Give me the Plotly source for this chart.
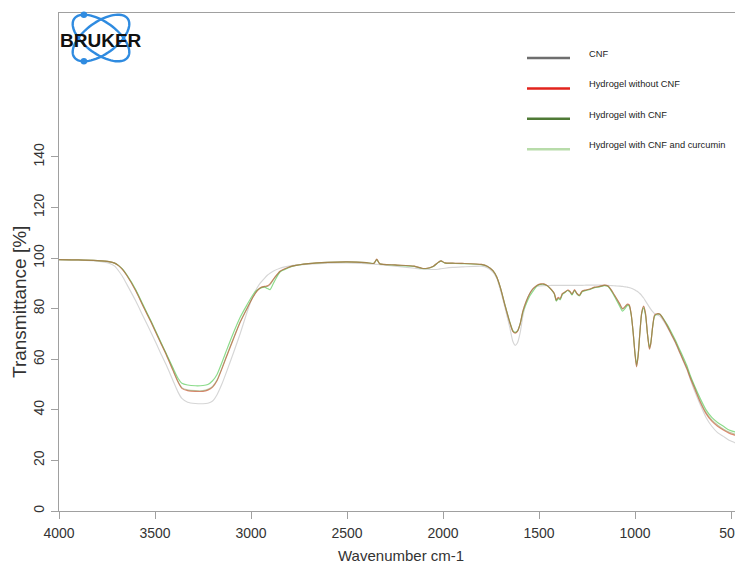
import math
import plotly.graph_objects as go

# ---------------- data ----------------
wavenumber = [4000, 3900, 3800, 3740, 3710, 3690, 3670, 3646, 3600, 3562, 3520, 3474, 3440, 3406, 3380,
              3360, 3330, 3290, 3250, 3225, 3200, 3177, 3150, 3125, 3094, 3057, 3021, 2990, 2970, 2953,
              2930, 2915, 2901, 2880, 2849, 2810, 2781, 2700, 2600, 2500, 2400, 2360, 2345, 2330, 2250,
              2150, 2110, 2090, 2050, 2025, 2010, 1990, 1950, 1900, 1800, 1770, 1740, 1720, 1700, 1676,
              1652, 1636, 1624, 1612, 1598, 1584, 1566, 1548, 1530, 1510, 1490, 1475, 1455, 1435, 1420,
              1410, 1400, 1390, 1378, 1365, 1350, 1338, 1328, 1315, 1302, 1290, 1275, 1255, 1235, 1210,
              1185, 1160, 1140, 1120, 1100, 1080, 1065, 1050, 1040, 1030, 1020, 1010, 1000, 992, 984,
              975, 965, 955, 945, 935, 925, 918, 908, 898, 885, 870, 850, 830, 810, 790, 770, 750,
              730, 714, 690, 660, 630, 600, 570, 540, 510, 480, 440]

cnf = [99.4, 99.2, 98.8, 98.0, 96.8, 95.0, 92.8, 89.5, 83.0, 77.0, 70.5, 63.0, 57.5, 51.5, 47.0,
       44.5, 43.0, 42.5, 42.4, 42.6, 43.5, 46.0, 50.5, 55.5, 62.0, 70.0, 78.5, 85.0, 88.0, 90.0,
       92.0, 93.2, 94.0, 95.0, 96.0, 96.7, 97.1, 97.6, 98.0, 98.1, 97.8, 97.6, 97.5, 97.4, 96.8,
       96.0, 95.7, 95.6, 95.5, 95.6, 95.8, 96.0, 96.3, 96.5, 96.8, 96.2, 94.5, 92.0, 87.0, 80.0,
       72.5, 67.0, 65.5, 66.5, 70.5, 77.0, 82.5, 86.0, 88.0, 88.8, 89.0, 89.1, 89.1, 89.2, 89.2,
       89.2, 89.2, 89.2, 89.2, 89.2, 89.2, 89.2, 89.2, 89.2, 89.2, 89.2, 89.2, 89.3, 89.3, 89.3,
       89.3, 89.3, 89.2, 89.1, 89.0, 88.9, 88.8, 88.6, 88.5, 88.3, 88.1, 87.8, 87.4, 87.0, 86.6,
       86.0, 85.2, 84.2, 83.0, 81.8, 80.6, 79.8, 78.8, 78.0, 77.5, 77.0, 75.0, 72.5, 69.5, 66.5,
       63.0, 59.5, 56.0, 52.5, 47.5, 42.0, 37.0, 33.5, 31.0, 29.5, 28.0, 27.0, 25.5]

hydrogel_without_cnf = [99.4, 99.3, 99.0, 98.6, 98.0, 97.0, 95.5, 93.0, 87.0, 81.0, 74.5, 67.0, 61.5, 55.5, 51.0,
                        48.5, 47.6, 47.3, 47.3, 47.8, 49.0, 51.5, 56.5, 61.5, 67.5, 74.5, 80.0, 84.5, 86.8, 88.2,
                        88.8, 89.0, 89.8, 92.0, 94.8, 96.2, 96.9, 97.8, 98.3, 98.5, 98.2, 97.9, 99.6, 97.8, 97.3,
                        96.8, 96.0, 95.9, 96.8, 98.3, 98.9, 98.1, 98.0, 97.9, 97.5, 96.8, 95.0, 92.5, 88.0, 81.0,
                        74.5, 71.0, 70.3, 71.0, 74.0, 79.0, 83.0, 86.0, 88.0, 89.3, 89.8, 89.8, 89.0, 87.5, 86.0,
                        83.5, 84.5, 84.0, 86.0, 86.6, 87.4, 86.8, 85.8, 87.5, 86.0, 85.3, 87.0, 87.4, 87.8, 88.5,
                        88.8, 89.3, 89.0, 87.0, 84.5, 82.0, 80.0, 81.0, 81.8, 81.5, 78.0, 71.0, 62.0, 57.0, 61.0,
                        70.0, 78.5, 81.0, 78.0, 70.0, 64.0, 66.0, 73.0, 77.5, 78.0, 77.8, 75.5, 72.8, 69.8, 66.8,
                        63.3, 59.8, 56.3, 53.0, 48.5, 43.0, 38.5, 35.5, 33.5, 32.0, 30.8, 30.0, 29.0]

hydrogel_with_cnf = [99.4, 99.3, 99.0, 98.6, 98.0, 97.0, 95.6, 93.1, 87.2, 81.2, 74.7, 67.2, 61.8, 55.8, 51.3,
                     48.8, 47.9, 47.6, 47.6, 48.1, 49.3, 51.8, 56.8, 61.8, 67.8, 74.7, 80.2, 84.6, 86.9, 88.2,
                     88.7, 88.8, 89.5, 91.8, 94.7, 96.2, 96.9, 97.8, 98.3, 98.5, 98.2, 97.9, 99.5, 97.8, 97.3,
                     96.8, 96.0, 95.9, 96.8, 98.3, 98.9, 98.1, 98.0, 97.9, 97.5, 96.8, 95.0, 92.5, 88.0, 81.0,
                     74.5, 71.0, 70.5, 71.2, 74.2, 79.0, 83.0, 86.0, 87.8, 89.2, 89.7, 89.7, 89.0, 87.4, 85.8,
                     83.2, 84.2, 83.8, 85.8, 86.5, 87.3, 86.6, 85.6, 87.4, 85.9, 85.2, 86.9, 87.3, 87.7, 88.4,
                     88.7, 89.2, 88.9, 86.9, 84.4, 81.8, 79.8, 80.8, 81.6, 81.3, 77.8, 70.8, 62.0, 57.2, 61.0,
                     70.0, 78.4, 80.8, 77.8, 70.0, 64.2, 66.0, 72.8, 77.3, 77.9, 77.8, 75.6, 73.0, 70.0, 67.0,
                     63.6, 60.1, 56.7, 53.4, 49.0, 43.5, 39.0, 36.0, 34.0, 32.4, 31.2, 30.4, 29.5]

hydrogel_with_cnf_curcumin = [99.4, 99.3, 99.0, 98.6, 98.0, 97.1, 95.7, 93.3, 87.5, 81.5, 75.0, 67.5, 62.0, 56.5, 52.5,
                              50.5, 49.8, 49.5, 49.6, 50.0, 51.5, 54.0, 59.0, 64.0, 70.0, 76.5, 81.5, 85.5, 87.3, 88.0,
                              88.5, 88.0, 87.5, 90.5, 94.5, 96.0, 96.8, 97.8, 98.3, 98.5, 98.2, 97.9, 99.4, 97.8, 97.2,
                              96.7, 95.9, 95.8, 96.7, 98.2, 98.8, 98.0, 97.9, 97.8, 97.4, 96.8, 95.0, 92.5, 88.0, 81.2,
                              74.8, 71.3, 70.6, 71.2, 74.0, 78.5, 82.0, 85.0, 87.0, 89.0, 89.6, 89.6, 88.9, 87.4, 85.8,
                              83.0, 84.0, 83.5, 85.6, 86.4, 87.2, 86.5, 85.4, 87.2, 85.8, 85.0, 86.7, 87.2, 87.6, 88.3,
                              88.6, 89.1, 88.8, 86.6, 83.8, 81.0, 79.0, 80.2, 81.2, 81.0, 77.6, 71.0, 62.5, 58.0, 61.5,
                              70.2, 78.0, 80.2, 77.2, 70.0, 64.8, 66.5, 72.8, 77.0, 77.8, 77.8, 75.8, 73.4, 70.6, 67.6,
                              64.3, 61.0, 57.5, 54.0, 49.5, 44.5, 40.0, 37.0, 35.0, 33.5, 32.0, 31.3, 30.8]

series_names = ["CNF", "Hydrogel without CNF", "Hydrogel with CNF", "Hydrogel with CNF and curcumin"]
x_tick_values = [4000, 3500, 3000, 2500, 2000, 1500, 1000, 500]
y_tick_values = [0, 20, 40, 60, 80, 100, 120, 140]

# ---------------- styles ----------------
plot_colors = {
    "CNF": "#d6d6d6",
    "Hydrogel without CNF": "rgba(214,96,66,0.75)",
    "Hydrogel with CNF": "rgba(120,140,70,0.45)",
    "Hydrogel with CNF and curcumin": "#8bdc8b",
}
legend_colors = {
    "CNF": "#6e6e6e",
    "Hydrogel without CNF": "#e2231d",
    "Hydrogel with CNF": "#4f7a36",
    "Hydrogel with CNF and curcumin": "#b8dcaa",
}
series_values = {
    "CNF": cnf,
    "Hydrogel without CNF": hydrogel_without_cnf,
    "Hydrogel with CNF": hydrogel_with_cnf,
    "Hydrogel with CNF and curcumin": hydrogel_with_cnf_curcumin,
}
draw_order = ["CNF", "Hydrogel with CNF and curcumin", "Hydrogel without CNF", "Hydrogel with CNF"]

# page has an 8px body margin: the figure starts at (8, 8) in the window
OFF = 8
W, H = 743 - OFF, 566 - OFF
PLOT_L, PLOT_T, PLOT_R, PLOT_B = 59, 13, 743, 511     # plot area, window pixels
ML, MT = PLOT_L - OFF, PLOT_T - OFF
MR = (W + OFF) - PLOT_R
MB = (H + OFF) - PLOT_B
PW, PH = PLOT_R - PLOT_L, PLOT_B - PLOT_T


def pxx(x):
    return (x - PLOT_L) / PW


def pxy(y):
    return (PLOT_B - y) / PH


fig = go.Figure()
for name in draw_order:
    fig.add_trace(go.Scatter(
        x=wavenumber, y=series_values[name], mode="lines", name=name, showlegend=False,
        line=dict(color=plot_colors[name], width=1.15, shape="spline", smoothing=0.6),
        hoverinfo="x+y+name",
    ))

shapes = []
annotations = []

# ---------------- legend (drawn manually, as in the reference) ----------------
for i, name in enumerate(series_names):
    ly = 58 + 30.4 * i
    shapes.append(dict(type="line", xref="paper", yref="paper",
                       x0=pxx(527), x1=pxx(570), y0=pxy(ly), y1=pxy(ly),
                       line=dict(color=legend_colors[name], width=2.5)))
    annotations.append(dict(xref="paper", yref="paper", x=pxx(587), y=pxy(ly - 4),
                            xanchor="left", yanchor="middle", showarrow=False, text=name,
                            font=dict(family="Liberation Sans, Arial", size=9.3,
                                      color="#222222")))

# ---------------- Bruker logo ----------------
cx, cy = 101, 38
a_ax, b_ax, ang = 33, 16, math.radians(36)


def ellipse_xy(sign, t):
    ux, uy = math.cos(ang), sign * math.sin(ang)
    vx, vy = -uy, ux
    return (cx + a_ax * math.cos(t) * ux + b_ax * math.sin(t) * vx,
            cy + a_ax * math.cos(t) * uy + b_ax * math.sin(t) * vy)


def ellipse_path(sign):
    pts = [ellipse_xy(sign, 2 * math.pi * k / 72) for k in range(73)]
    return "M " + " L ".join(f"{pxx(X):.5f},{pxy(Y):.5f}" for X, Y in pts) + " Z"


def extreme_point(sign, top):
    pts = [ellipse_xy(sign, 2 * math.pi * k / 720) for k in range(720)]
    return min(pts, key=lambda p: p[1]) if top else max(pts, key=lambda p: p[1])


logo_blue = "#2f8be0"
for s in (1, -1):
    shapes.append(dict(type="path", xref="paper", yref="paper", path=ellipse_path(s),
                       line=dict(color=logo_blue, width=2.4)))
for s, top in ((1, True), (-1, False)):
    ex, ey = extreme_point(s, top)
    r = 3.2
    shapes.append(dict(type="circle", xref="paper", yref="paper",
                       x0=pxx(ex - r), x1=pxx(ex + r), y0=pxy(ey + r), y1=pxy(ey - r),
                       fillcolor=logo_blue, line=dict(color=logo_blue, width=0)))
annotations.append(dict(xref="paper", yref="paper", x=pxx(101), y=pxy(40), showarrow=False,
                        text="<b>BRUKER</b>", xanchor="center", yanchor="middle",
                        font=dict(family="Liberation Sans, Arial", size=19, color="#111111")))

# ---------------- axis titles ----------------
annotations.append(dict(xref="paper", yref="paper", x=pxx(401), y=pxy(555), showarrow=False,
                        text="Wavenumber cm-1", xanchor="center", yanchor="middle",
                        font=dict(family="Liberation Sans, Arial", size=15, color="#333333")))
annotations.append(dict(xref="paper", yref="paper", x=pxx(19), y=pxy(302), showarrow=False,
                        text="Transmittance [%]", textangle=-90, xanchor="center", yanchor="middle",
                        font=dict(family="Liberation Sans, Arial", size=19, color="#333333")))

axis_gray = "#a0a0a0"
fig.update_layout(
    width=W, height=H,
    margin=dict(l=ML, r=MR, t=MT, b=MB, pad=0),
    paper_bgcolor="white", plot_bgcolor="white",
    showlegend=False,
    shapes=shapes, annotations=annotations,
    xaxis=dict(range=[4000, 437.5], tickmode="array", tickvals=x_tick_values,
               ticktext=[str(v) for v in x_tick_values],
               showline=True, mirror=True, linecolor=axis_gray, linewidth=1.2,
               ticks="outside", ticklen=7, tickcolor=axis_gray, tickwidth=1.2,
               showgrid=False, zeroline=False, ticklabelstandoff=2,
               tickfont=dict(family="Liberation Sans, Arial", size=14, color="#333333")),
    yaxis=dict(range=[0, 196.9], tickmode="array", tickvals=y_tick_values,
               ticktext=[str(v) for v in y_tick_values], tickangle=-90,
               showline=True, mirror=False, linecolor=axis_gray, linewidth=1.2,
               ticks="outside", ticklen=7, tickcolor=axis_gray, tickwidth=1.2,
               showgrid=False, zeroline=False, ticklabelstandoff=1,
               tickfont=dict(family="Liberation Sans, Arial", size=14, color="#333333")),
)

fig.write_html("out.html")
